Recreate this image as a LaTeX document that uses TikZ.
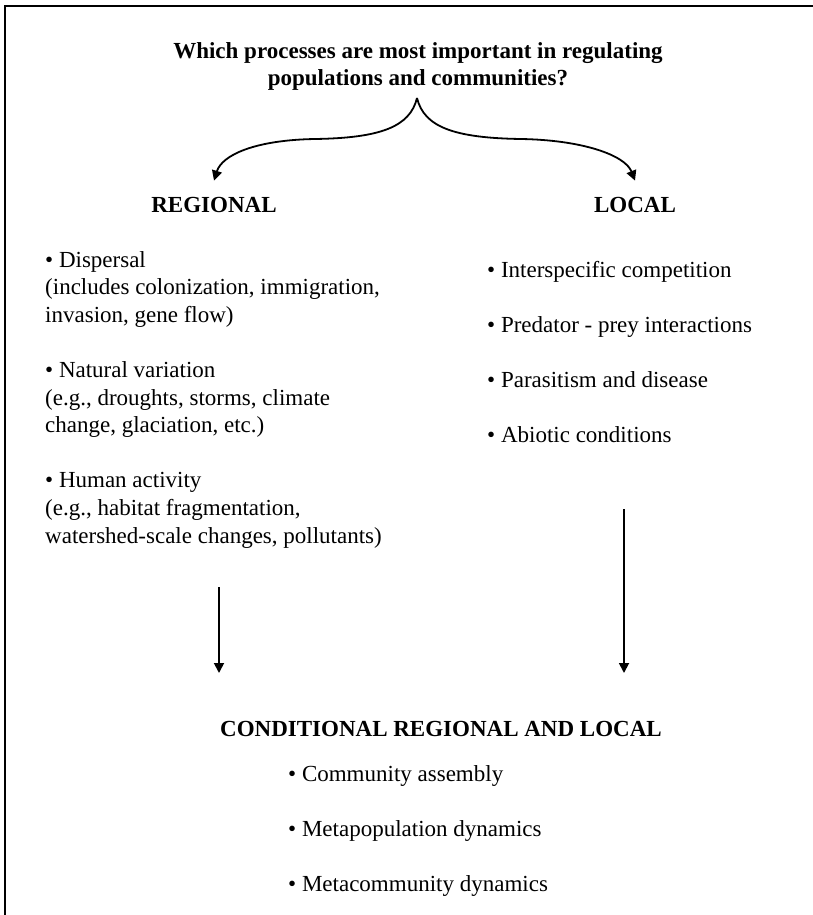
\documentclass[tikz,border=0pt]{standalone}
\usepackage{fontspec}
\setmainfont{Liberation Serif}
\usetikzlibrary{arrows.meta}

\begin{document}
\begin{tikzpicture}[x=1pt, y=-1pt,
    every node/.style={inner sep=0pt, font=\fontsize{23}{27.6}\selectfont},
    head/.style={font=\fontsize{23}{27.6}\selectfont\bfseries, anchor=base},
    items/.style={align=left, anchor=base west},
    arr/.style={line width=1.8pt, -{Triangle[width=10pt, length=10pt]}}]
    \useasboundingbox (0,0) rectangle (813,915);
    % Frame
    \draw[line width=2pt] (5,915) -- (5,6) -- (813,6);

    % Question (base = last line)
    \node[head, align=center] (question) at (418,86) {Which processes are most important in regulating\\populations and communities?};

    \node[head] (regional) at (214,212) {REGIONAL};
    \node[head] (local) at (635,212) {LOCAL};

    \coordinate (fork) at (417,98);
    \coordinate (split) at (315,139);
    \coordinate (splitR) at (521,139);
    \draw[arr] (fork) .. controls (410,127) and (380,138) .. (split) .. controls (255,140) and (222,155) .. ([yshift=16pt]regional.north);
    \draw[arr] (fork) .. controls (424,127) and (454,138) .. (splitR) .. controls (582,140) and (625,155) .. ([yshift=16pt]local.north);

    % Regional processes
    \node[items] (reglist) at (45,543) {\textbullet\ Dispersal\\(includes colonization, immigration,\\invasion, gene flow)\\[27.6pt]\textbullet\ Natural variation\\(e.g., droughts, storms, climate\\change, glaciation, etc.)\\[27.6pt]\textbullet\ Human activity\\(e.g., habitat fragmentation,\\watershed-scale changes, pollutants)};

    % Local processes
    \node[items] (loclist) at (487,442.6) {\textbullet\ Interspecific competition\\[27.6pt]\textbullet\ Predator - prey interactions\\[27.6pt]\textbullet\ Parasitism and disease\\[27.6pt]\textbullet\ Abiotic conditions};

    \coordinate (regend) at (219,587);
    \coordinate (locend) at (624,509);

    \node[head] (both) at (441,736) {CONDITIONAL REGIONAL AND LOCAL};

    \draw[arr] (regend) -- (219,673);
    \draw[arr] (locend) -- (624,673);

    % Conditional processes
    \node[items] (bothlist) at (288,891.4) {\textbullet\ Community assembly\\[27.6pt]\textbullet\ Metapopulation dynamics\\[27.6pt]\textbullet\ Metacommunity dynamics};
\end{tikzpicture}
\end{document}
